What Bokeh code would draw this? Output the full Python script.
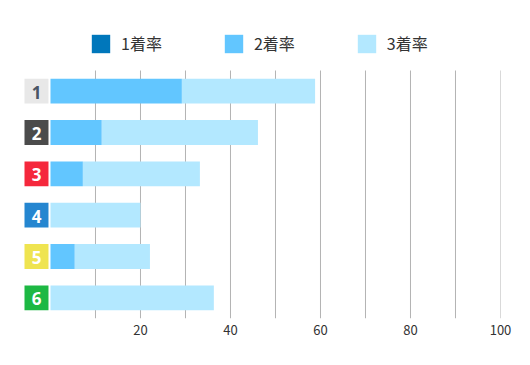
from bokeh.plotting import figure
from bokeh.models import Range1d, FixedTicker, Legend, LegendItem, ColumnDataSource
from bokeh.core.properties import value
from bokeh.embed import file_html
from bokeh.resources import INLINE

boats = ["1", "2", "3", "4", "5", "6"]
first = [0, 0, 0, 0, 0, 0]
second = [29.2, 11.4, 7.2, 0, 5.4, 0]
third = [29.6, 34.7, 26.0, 20.0, 16.7, 36.3]
series_names = ["1着率", "2着率", "3着率"]
series_colors = ["#0077bb", "#62c6ff", "#b3e8ff"]
box_colors = ["#e8e8e8", "#4b4b4b", "#f5283c", "#2586d0", "#efe450", "#1db843"]
box_text_colors = ["#4a5564", "#ffffff", "#ffffff", "#ffffff", "#ffffff", "#ffffff"]
grid_ticks = [10, 20, 30, 40, 50, 60, 70, 80, 90, 100]
label_ticks = [20, 40, 60, 80, 100]

n = len(boats)
ypos = [i + 0.5 for i in range(n)]
src = ColumnDataSource(dict(y=ypos, first=first, second=second, third=third,
                            boat=boats, bc=box_colors, tc=box_text_colors))

p = figure(width=514, height=349, output_backend="svg", toolbar_location=None,
           x_range=Range1d(-6.22, 100), y_range=Range1d(n, -1.5),
           min_border_left=22, min_border_right=14, min_border_bottom=31, min_border_top=8)
p.outline_line_color = None
p.xgrid.visible = False
p.ygrid.visible = False
p.yaxis.visible = False

# vertical grid lines spanning the bar area
p.segment(x0=grid_ticks, x1=grid_ticks, y0=[0] * len(grid_ticks), y1=[n] * len(grid_ticks),
          line_color="#b4b4b4", line_width=1)

rs = p.hbar_stack(["first", "second", "third"], y="y", height=0.6, source=src,
                  color=series_colors, line_color=None)

p.rect(x=-3.11, y="y", width=5.33, height=0.6, source=src, fill_color="bc", line_color=None)
p.text(x=-3.11, y="y", text="boat", source=src, text_color="tc", text_align="center",
       text_baseline="middle", text_font=value("Open Sans"), text_font_style="bold",
       text_font_size="17px", y_offset=1)

p.xaxis.ticker = FixedTicker(ticks=label_ticks)
p.xaxis.axis_line_color = None
p.xaxis.major_tick_line_color = None
p.xaxis.minor_tick_line_color = None
p.xaxis.major_tick_out = 0
p.xaxis.major_tick_in = 0
p.xaxis.major_label_standoff = 6
p.xaxis.major_label_text_font = "Noto Sans CJK JP"
p.xaxis.major_label_text_font_size = "13px"
p.xaxis.major_label_text_color = "#333333"

legend = Legend(items=[LegendItem(label=nm, renderers=[r]) for nm, r in zip(series_names, rs)],
                orientation="horizontal", location=(67, 263))
legend.border_line_color = None
legend.background_fill_alpha = 0
legend.glyph_width = 23
legend.glyph_height = 23
legend.label_height = 23
legend.label_standoff = 9
legend.spacing = 60
legend.padding = 0
legend.margin = 0
legend.label_text_font = "Noto Sans CJK JP"
legend.label_text_font_size = "16px"
legend.label_text_color = "#333333"
p.add_layout(legend)

open("out.html", "w").write(file_html(p, INLINE))
